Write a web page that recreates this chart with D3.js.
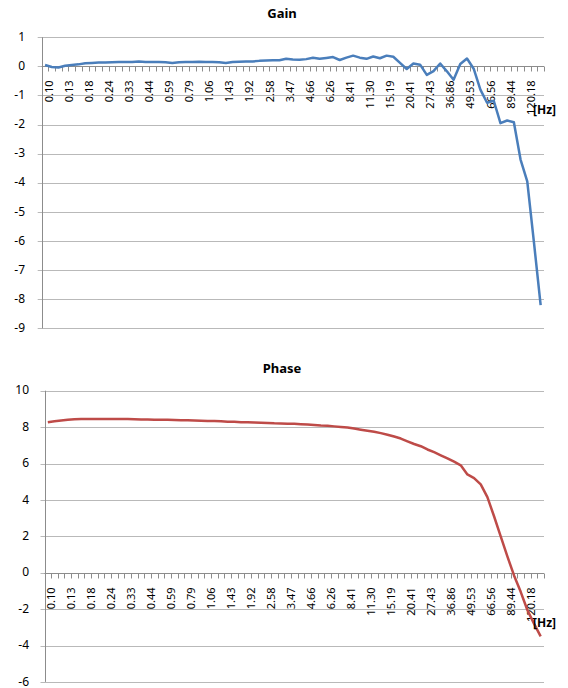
<!DOCTYPE html>
<html>
<head>
<meta charset="utf-8">
<script src="https://cdn.jsdelivr.net/npm/d3@7"></script>
<style>
    body { margin: 0; background: #fff; }
    svg { display: block; font-family: "Noto Sans", "DejaVu Sans", sans-serif; }
    .grid line { stroke: #b9b9b9; stroke-width: 1; }
    .axis-line { stroke: #8c8c8c; stroke-width: 1; }
    .ytick { font-size: 12px; fill: #000; }
    .xtick { font-size: 11px; fill: #000; }
    .title { font-size: 13px; font-weight: bold; fill: #000; }
    .unit { font-size: 12px; font-weight: bold; fill: #000; }
</style>
</head>
<body>
<svg id="chart" width="568" height="688"></svg>
<script>
// frequency categories (Hz), every third one is labelled
var freqLabels = ["0.10","0.11","0.12","0.13","0.15","0.16","0.18","0.20","0.22","0.24",
    "0.27","0.30","0.33","0.36","0.40","0.44","0.48","0.53","0.59","0.65",
    "0.72","0.79","0.87","0.96","1.06","1.17","1.30","1.43","1.58","1.74",
    "1.92","2.12","2.34","2.58","2.85","3.14","3.47","3.83","4.22","4.66",
    "5.14","5.68","6.26","6.91","7.63","8.41","9.29","10.25","11.30","12.48",
    "13.78","15.19","16.77","18.51","20.41","22.54","24.87","27.43","30.29","33.42",
    "36.86","40.70","44.92","49.53","54.70","60.36","66.56","73.51","81.12","89.44",
    "98.79","109.02","120.18","132.70","146.46"];

var gainValues = [0.05,-0.02,-0.04,0.02,0.05,0.07,0.11,0.12,0.13,0.13,
    0.14,0.15,0.15,0.15,0.17,0.15,0.15,0.15,0.14,0.12,
    0.14,0.15,0.15,0.16,0.15,0.15,0.14,0.12,0.15,0.16,
    0.17,0.17,0.19,0.20,0.21,0.21,0.26,0.24,0.23,0.25,
    0.30,0.26,0.29,0.32,0.22,0.30,0.37,0.30,0.26,0.34,
    0.28,0.37,0.33,0.12,-0.09,0.10,0.06,-0.29,-0.16,0.10,
    -0.17,-0.46,0.08,0.27,-0.08,-0.80,-1.25,-1.18,-1.95,-1.86,
    -1.92,-3.20,-3.95,-6.05,-8.20];

var phaseValues = [8.27,8.32,8.36,8.40,8.43,8.44,8.44,8.44,8.44,8.44,
    8.44,8.44,8.44,8.43,8.42,8.42,8.41,8.40,8.40,8.39,
    8.38,8.37,8.36,8.35,8.34,8.33,8.32,8.30,8.29,8.27,
    8.26,8.25,8.24,8.23,8.21,8.20,8.19,8.18,8.16,8.14,
    8.12,8.09,8.07,8.04,8.01,7.98,7.92,7.86,7.80,7.74,
    7.67,7.58,7.48,7.37,7.22,7.07,6.95,6.77,6.62,6.45,
    6.28,6.10,5.90,5.40,5.20,4.85,4.15,3.10,2.00,0.90,
    -0.15,-1.05,-2.05,-2.80,-3.50];

var gainTicks = [1,0,-1,-2,-3,-4,-5,-6,-7,-8,-9];
var phaseTicks = [10,8,6,4,2,0,-2,-4,-6];

var svg = d3.select('#chart');

/**
 * Draw one Excel style line panel.
 */
function drawPanel(opts) {
    var g = svg.append('g');

    var x = d3.scalePoint()
        .domain(d3.range(freqLabels.length))
        .range([opts.left, opts.right])
        .padding(0.5);
    var step = x.step();

    var y = d3.scaleLinear()
        .domain(d3.extent(opts.ticks))
        .range([opts.bottom, opts.top]);

    // horizontal gridlines
    g.append('g').attr('class', 'grid')
        .selectAll('line')
        .data(opts.ticks)
        .enter().append('line')
            .attr('x1', opts.left - 4)
            .attr('x2', opts.right)
            .attr('y1', function(d) { return Math.round(y(d)) + 0.5; })
            .attr('y2', function(d) { return Math.round(y(d)) + 0.5; });

    // value labels
    g.selectAll('.ytick')
        .data(opts.ticks)
        .enter().append('text')
            .attr('class', 'ytick')
            .attr('x', opts.labelRight)
            .attr('y', function(d) { return y(d); })
            .attr('dy', '0.3em')
            .attr('text-anchor', 'end')
            .text(function(d) { return d; });

    // vertical axis
    g.append('line').attr('class', 'axis-line')
        .attr('x1', Math.round(opts.left) + 0.5).attr('x2', Math.round(opts.left) + 0.5)
        .attr('y1', opts.top).attr('y2', opts.bottom);

    // category axis crosses at zero
    var y0 = Math.round(y(0)) + 0.5;
    g.append('line').attr('class', 'axis-line')
        .attr('x1', opts.left).attr('x2', opts.right)
        .attr('y1', y0).attr('y2', y0);

    g.append('g')
        .selectAll('line')
        .data(d3.range(freqLabels.length + 1))
        .enter().append('line')
            .attr('class', 'axis-line')
            .attr('x1', function(i) { return Math.round(opts.left + i * step) + 0.5; })
            .attr('x2', function(i) { return Math.round(opts.left + i * step) + 0.5; })
            .attr('y1', y0)
            .attr('y2', y0 + 5);

    g.selectAll('.xtick')
        .data(freqLabels.filter(function(d, i) { return i % 3 == 0; }))
        .enter().append('text')
            .attr('class', 'xtick')
            .attr('transform', function(d) {
                var i = freqLabels.indexOf(d);
                return 'translate(' + (x(i) + 7.5) + ',' + (y0 + 14) + ') rotate(-90)';
            })
            .attr('text-anchor', 'end')
            .text(function(d) { return d; });

    g.append('path')
        .datum(opts.values)
        .attr('fill', 'none')
        .attr('stroke', opts.color)
        .attr('stroke-width', 2.5)
        .attr('stroke-linejoin', 'round')
        .attr('d', d3.line()
            .x(function(d, i) { return x(i); })
            .y(function(d) { return y(d); }));

    g.append('text').attr('class', 'title')
        .attr('x', 282).attr('y', opts.titleY)
        .attr('text-anchor', 'middle')
        .text(opts.title);

    g.append('text').attr('class', 'unit')
        .attr('x', 533).attr('y', opts.unitY)
        .text('[Hz]');
}

drawPanel({
    title: 'Gain', titleY: 18,
    values: gainValues, ticks: gainTicks,
    left: 41.7, right: 544, top: 37.3, bottom: 328.3,
    labelRight: 25, unitY: 114,
    color: '#4a7ebb'
});

drawPanel({
    title: 'Phase', titleY: 373,
    values: phaseValues, ticks: phaseTicks,
    left: 44.5, right: 544, top: 390.7, bottom: 681.9,
    labelRight: 29, unitY: 627,
    color: '#be4b48'
});
</script>
</body>
</html>
